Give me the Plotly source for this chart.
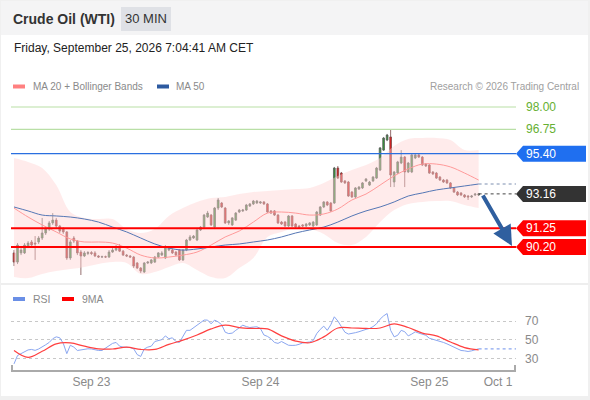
import pandas as pd
import plotly.graph_objects as go

W, H = 590, 400

# 30 min candles, Sep 22 13:00 -> Sep 25 07:00
opens = [
    89.87, 89.36, 89.87, 89.87, 90.25, 90.48, 90.42, 90.48, 90.70, 90.98,
    91.20, 91.54, 91.70, 91.37, 91.20, 91.04, 89.59, 90.70, 90.53, 89.92,
    89.70, 89.84, 89.89, 89.87, 89.70, 89.64, 89.66, 89.64, 89.92, 90.03,
    90.20, 89.97, 89.75, 89.70, 89.64, 89.31, 89.03, 88.81, 89.31, 89.31,
    89.36, 89.64, 89.75, 89.59, 90.03, 90.03, 89.92, 90.03, 89.48, 90.03,
    90.59, 90.70, 90.59, 91.15, 91.31, 91.87, 91.98, 91.31, 92.37, 92.65,
    92.37, 91.54, 91.43, 91.70, 92.15, 92.21, 92.26, 92.48, 92.60, 92.65,
    92.65, 92.71, 92.60, 92.21, 92.21, 91.98, 91.59, 91.59, 91.37, 91.93,
    91.48, 91.37, 91.43, 91.37, 91.43, 91.37, 91.43, 91.98, 92.43, 92.71,
    92.65, 92.65, 94.60, 94.32, 93.88, 93.82, 93.26, 92.99, 93.43, 93.49,
    93.88, 93.65, 93.88, 94.04, 94.49, 95.60, 96.16, 96.33, 93.82, 94.32,
    94.88, 95.21, 94.38, 94.38, 95.16, 95.33, 95.21, 94.82, 94.77, 94.38,
    94.32, 94.10, 93.93, 93.93, 93.77, 93.49, 93.26, 93.21, 93.10, 93.04,
    92.99, 93.10, 93.10,
]
highs = [
    90.03, 90.42, 90.14, 90.42, 90.53, 90.59, 90.81, 90.81, 91.82, 91.31,
    91.65, 92.09, 91.82, 91.43, 91.31, 91.09, 90.59, 90.81, 90.59, 90.03,
    89.97, 89.97, 89.97, 89.97, 89.75, 89.72, 89.72, 90.03, 90.14, 90.31,
    90.37, 90.03, 89.81, 89.75, 89.70, 89.36, 89.08, 89.36, 89.42, 89.53,
    89.70, 89.92, 89.97, 90.31, 90.25, 90.14, 89.97, 90.09, 90.09, 90.65,
    90.87, 90.87, 91.20, 91.37, 92.04, 92.21, 92.04, 92.43, 92.93, 92.71,
    92.43, 91.70, 91.87, 92.15, 92.32, 92.32, 92.60, 92.65, 92.82, 92.82,
    92.76, 92.76, 92.65, 92.26, 92.26, 92.04, 91.65, 91.65, 91.98, 91.98,
    91.54, 91.43, 91.48, 91.54, 91.59, 91.65, 92.21, 92.48, 92.76, 92.76,
    92.71, 94.66, 94.71, 94.38, 93.93, 93.88, 93.32, 93.54, 93.60, 93.82,
    94.04, 93.88, 94.15, 94.66, 95.77, 96.33, 96.50, 96.72, 94.43, 95.00,
    95.60, 95.27, 94.94, 95.38, 95.38, 95.38, 95.27, 94.88, 94.82, 94.43,
    94.38, 94.15, 93.99, 93.99, 93.82, 93.54, 93.32, 93.26, 93.15, 93.10,
    93.10, 93.21, 93.21,
]
lows = [
    89.14, 89.25, 89.75, 89.81, 90.14, 90.20, 89.48, 90.37, 90.59, 90.87,
    91.09, 91.43, 91.26, 90.98, 90.93, 89.48, 89.48, 90.42, 89.75, 88.64,
    89.64, 89.75, 89.75, 89.64, 89.59, 89.59, 89.59, 89.59, 89.87, 89.97,
    89.92, 89.70, 89.64, 89.59, 89.03, 88.97, 88.75, 88.75, 89.25, 89.25,
    89.31, 89.59, 89.70, 89.53, 89.97, 89.81, 89.70, 89.42, 89.42, 89.97,
    90.53, 90.65, 90.53, 91.09, 91.20, 91.82, 91.37, 91.20, 92.26, 92.37,
    91.48, 91.43, 91.37, 91.65, 92.09, 92.15, 92.21, 92.43, 92.54, 92.60,
    92.60, 92.54, 92.09, 92.04, 91.93, 91.48, 91.43, 91.31, 91.31, 91.31,
    91.26, 91.26, 91.31, 91.31, 91.37, 91.31, 91.37, 91.93, 92.37, 92.48,
    92.15, 92.60, 93.99, 93.77, 93.71, 92.99, 92.93, 92.93, 93.38, 93.43,
    93.82, 93.60, 93.82, 93.99, 94.43, 95.55, 96.10, 93.54, 93.54, 94.27,
    94.82, 93.54, 94.32, 94.32, 95.10, 95.16, 94.71, 94.66, 94.27, 94.21,
    93.99, 93.88, 93.77, 93.71, 93.43, 93.21, 93.04, 93.04, 92.93, 92.82,
    92.93, 93.04, 93.04,
]
closes = [
    89.36, 90.31, 90.03, 90.31, 90.42, 90.31, 90.37, 90.70, 90.98, 91.20,
    91.54, 91.70, 91.37, 91.09, 91.04, 89.59, 90.48, 90.53, 89.87, 89.70,
    89.87, 89.89, 89.84, 89.70, 89.64, 89.66, 89.64, 89.92, 90.03, 90.20,
    89.97, 89.75, 89.70, 89.64, 89.14, 89.03, 88.86, 89.31, 89.36, 89.48,
    89.64, 89.87, 89.87, 90.20, 90.14, 89.87, 89.75, 89.48, 90.03, 90.59,
    90.76, 90.81, 91.15, 91.31, 91.98, 92.09, 91.43, 92.37, 92.82, 92.43,
    91.54, 91.65, 91.82, 92.09, 92.26, 92.26, 92.54, 92.60, 92.76, 92.76,
    92.71, 92.60, 92.15, 92.09, 91.98, 91.54, 91.48, 91.37, 91.93, 91.37,
    91.31, 91.31, 91.37, 91.48, 91.54, 91.59, 92.15, 92.43, 92.71, 92.54,
    92.21, 94.60, 94.04, 93.82, 93.77, 93.04, 92.99, 93.49, 93.54, 93.77,
    93.99, 93.82, 94.10, 94.60, 95.72, 96.27, 96.44, 94.21, 94.38, 94.94,
    95.21, 94.38, 94.88, 95.33, 95.33, 95.21, 94.77, 94.71, 94.32, 94.27,
    94.04, 93.93, 93.82, 93.77, 93.49, 93.26, 93.10, 93.10, 92.99, 92.99,
    93.04, 93.15, 93.16,
]

# indicators read every 4th candle
ma20 = [92.37, 91.87, 91.43, 91.04, 90.65, 90.48, 90.48, 90.42, 90.14, 89.75,
        89.59, 89.64, 89.75, 89.92, 90.31, 90.76, 91.09, 91.59, 92.09, 92.15,
        92.09, 91.98, 92.04, 92.32, 92.82, 93.15, 93.65, 94.16, 94.55, 94.82,
        94.82, 94.66, 94.32, 93.93]
ma50 = [92.43, 92.21, 91.98, 91.93, 91.87, 91.76, 91.59, 91.31, 91.04, 90.70,
        90.37, 90.14, 90.03, 90.09, 90.20, 90.31, 90.37, 90.48, 90.59, 90.76,
        90.98, 91.15, 91.31, 91.59, 91.93, 92.21, 92.43, 92.71, 93.04, 93.21,
        93.38, 93.49, 93.60, 93.71]
bb_upper = [95.16, 94.94, 94.60, 93.65, 92.15, 91.82, 91.76, 91.76, 91.20, 90.98,
            91.20, 91.93, 92.37, 92.71, 92.93, 92.99, 93.15, 93.26, 93.32, 93.38,
            93.43, 93.49, 93.77, 94.16, 94.49, 94.77, 95.16, 95.83, 96.22, 96.27,
            96.27, 96.16, 95.60, 95.60]
bb_lower = [88.53, 88.47, 88.70, 88.86, 88.97, 89.09, 89.25, 89.36, 89.31, 88.70,
            88.81, 89.09, 89.31, 88.92, 88.53, 88.47, 89.03, 89.59, 90.76, 91.04,
            91.26, 91.20, 90.93, 90.42, 90.31, 90.76, 91.59, 92.26, 92.60, 92.71,
            92.76, 92.76, 92.54, 92.37]

rsi = [
    24, 33, 35, 37, 39, 39.5, 38.5, 40, 42, 44.5,
    47, 51, 53, 52, 46, 35, 44, 42, 38.4, 39,
    40, 40.2, 40, 39, 38.4, 38.4, 41, 43.5, 46, 47,
    43, 42, 42, 41.5, 40.2, 34, 32, 40, 42, 43,
    48, 49, 50, 54, 51, 52, 48, 47, 54, 60,
    60, 63, 65, 68, 71, 71, 67, 71, 69, 66,
    58, 56.5, 57, 60, 63, 65.5, 64, 63, 63.5, 63.8,
    62, 55, 53.5, 51, 47, 46, 48, 46, 44, 43.8,
    44, 45, 46.5, 47, 47.5, 49, 56.5, 61, 64.5, 60,
    66, 74.5, 70, 64, 58, 56, 56.5, 57.5, 58.5, 60,
    61, 62, 64, 67, 72, 75.5, 78, 60, 53, 54.7,
    60, 58.5, 54, 56, 58.4, 57, 56, 54.7, 51.5, 50.5,
    49.5, 48.5, 47, 45.5, 43.5, 41.5, 39.5, 38.4, 38, 37.3,
    38, 39, 40.2,
]
rsi_ma9 = [38.4, 31, 37.5, 45.5, 46.5, 43, 40.2, 40, 42, 39.5,
           39.5, 45, 49.5, 55, 61.5, 65.5, 63, 62, 61.5, 54,
           48.5, 46.7, 53, 62.5, 62.5, 62, 62.5, 67, 63, 57,
           54, 47.5, 41.5, 39]

resistances = [98.00, 96.75]
pivot = 95.40
supports = [91.25, 90.20]
tick_labels = ["Sep 23", "Sep 24", "Sep 25", "Oct 1"]

times = pd.date_range("2026-09-22 13:00", periods=len(closes), freq="30min")
ind_times = times[::4]
step = pd.Timedelta(minutes=30)

# pixel layout
X_LEFT, X_RIGHT, CANDLE0, CANDLE_W = 11, 516, 14, 3.52
P_TOP, P_BOT, P_REF_Y, P_REF, P_SCALE = 95, 282, 107, 98.0, 17.95
R_TOP, R_BOT, R_REF_Y, R_SCALE = 305, 370, 321, 0.9325


def px(x):
    return x / W


def py(y):
    return 1 - y / H


def t_at(pix):
    return times[0] + step * ((pix - CANDLE0) / CANDLE_W)


x_range = [t_at(X_LEFT), t_at(X_RIGHT)]
price_range = [P_REF - (P_BOT - P_REF_Y) / P_SCALE, P_REF + (P_REF_Y - P_TOP) / P_SCALE]
rsi_range = [70 - (R_BOT - R_REF_Y) / R_SCALE, 70 + (R_REF_Y - R_TOP) / R_SCALE]
tick_vals = [pd.Timestamp("2026-09-23"), pd.Timestamp("2026-09-24"),
             pd.Timestamp("2026-09-25"), t_at(498)]

FONT = "Liberation Sans, Arial, sans-serif"
GREY_TXT = "#8a8a8a"

fig = go.Figure()

# bollinger band
fig.add_trace(go.Scatter(x=ind_times, y=bb_upper, mode="lines", line=dict(width=0, shape="spline"),
                         hoverinfo="skip", xaxis="x", yaxis="y"))
fig.add_trace(go.Scatter(x=ind_times, y=bb_lower, mode="lines", line=dict(width=0, shape="spline"),
                         fill="tonexty", fillcolor="rgba(255,210,210,0.45)", hoverinfo="skip",
                         xaxis="x", yaxis="y"))
fig.add_trace(go.Scatter(x=ind_times, y=ma20, mode="lines",
                         line=dict(color="#ff9a9a", width=1, shape="spline"), xaxis="x", yaxis="y"))
fig.add_trace(go.Scatter(x=ind_times, y=ma50, mode="lines",
                         line=dict(color="#5577b5", width=1, shape="spline"), xaxis="x", yaxis="y"))
fig.add_trace(go.Scatter(x=[times[-1], x_range[1]], y=[ma50[-1], ma50[-1]], mode="lines",
                         line=dict(color="#7d8fb0", width=1, dash="dot"), xaxis="x", yaxis="y"))
fig.add_trace(go.Scatter(x=[times[-1], x_range[1]], y=[closes[-1], closes[-1]], mode="lines",
                         line=dict(color="#444444", width=1, dash="dot"), xaxis="x", yaxis="y"))

fig.add_trace(go.Candlestick(
    x=times, open=opens, high=highs, low=lows, close=closes,
    increasing=dict(line=dict(color="#5a5a5a", width=0.8), fillcolor="#2f9a35"),
    decreasing=dict(line=dict(color="#7a4a4a", width=0.8), fillcolor="#e31b1b"),
    whiskerwidth=0, xaxis="x", yaxis="y",
))

# RSI panel
fig.add_trace(go.Scatter(x=times, y=rsi, mode="lines", line=dict(color="#8aa6f0", width=1),
                         xaxis="x2", yaxis="y2"))
fig.add_trace(go.Scatter(x=[times[-1], x_range[1]], y=[rsi[-1], rsi[-1]], mode="lines",
                         line=dict(color="#8aa6f0", width=1.2, dash="dot"), xaxis="x2", yaxis="y2"))
fig.add_trace(go.Scatter(x=ind_times, y=rsi_ma9, mode="lines",
                         line=dict(color="#ff4040", width=1.2, shape="spline"), xaxis="x2", yaxis="y2"))

shapes = [
    # page background / frame
    dict(type="rect", xref="paper", yref="paper", x0=px(1), x1=px(588), y0=py(396), y1=py(1),
         fillcolor="white", line=dict(width=0), layer="below"),
    dict(type="rect", xref="paper", yref="paper", x0=px(1), x1=px(588), y0=py(35), y1=py(1),
         fillcolor="#f4f4f5", line=dict(width=0)),
    dict(type="rect", xref="paper", yref="paper", x0=px(121), x1=px(171), y0=py(31), y1=py(7),
         fillcolor="#dfe1e6", line=dict(width=0)),
    dict(type="line", xref="paper", yref="paper", x0=px(1), x1=px(588), y0=py(284), y1=py(284),
         line=dict(color="#eeeeee", width=2)),
    # legend swatches
    dict(type="rect", xref="paper", yref="paper", x0=px(13), x1=px(25), y0=py(88.5), y1=py(84.5),
         fillcolor="#ff8080", line=dict(width=0)),
    dict(type="rect", xref="paper", yref="paper", x0=px(157), x1=px(169), y0=py(88.5), y1=py(84.5),
         fillcolor="#2d5aa0", line=dict(width=0)),
    dict(type="rect", xref="paper", yref="paper", x0=px(13), x1=px(25), y0=py(301), y1=py(297),
         fillcolor="#6a8fe6", line=dict(width=0)),
    dict(type="rect", xref="paper", yref="paper", x0=px(62), x1=px(74), y0=py(301), y1=py(297),
         fillcolor="#ff0000", line=dict(width=0)),
    # axis end ticks
    dict(type="line", xref="paper", yref="paper", x0=px(X_LEFT + 1), x1=px(X_LEFT + 1), y0=py(370), y1=py(365),
         line=dict(color="#aaaaaa", width=2)),
    dict(type="line", xref="paper", yref="paper", x0=px(X_RIGHT - 1), x1=px(X_RIGHT - 1), y0=py(370), y1=py(365),
         line=dict(color="#aaaaaa", width=2)),
]

annotations = []
for lv in resistances:
    shapes.append(dict(type="line", xref="paper", yref="y", x0=px(X_LEFT), x1=px(X_RIGHT), y0=lv, y1=lv,
                       line=dict(color="#b9dfa6", width=1.2)))
    annotations.append(dict(xref="paper", yref="y", x=px(524), y=lv, text=f"{lv:.2f}", showarrow=False,
                            xanchor="left", yanchor="middle",
                            font=dict(color="#66b032", size=12, family=FONT)))

hh = 8 / P_SCALE


def tag(level, color):
    path = (f"M {px(516)},{level} L {px(523)},{level + hh} L {px(586)},{level + hh} "
            f"L {px(586)},{level - hh} L {px(523)},{level - hh} Z")
    shapes.append(dict(type="path", xref="paper", yref="y", path=path, fillcolor=color, line=dict(width=0)))
    annotations.append(dict(xref="paper", yref="y", x=px(524), y=level, text=f"{level:.2f}", showarrow=False,
                            xanchor="left", yanchor="middle",
                            font=dict(color="white", size=12, family=FONT)))


shapes.append(dict(type="line", xref="paper", yref="y", x0=px(X_LEFT), x1=px(X_RIGHT), y0=pivot, y1=pivot,
                   line=dict(color="#2a6fe0", width=1.3)))
tag(pivot, "#1f6ff0")
tag(closes[-1], "#333333")
for lv in supports:
    shapes.append(dict(type="line", xref="paper", yref="y", x0=px(X_LEFT), x1=px(X_RIGHT), y0=lv, y1=lv,
                       line=dict(color="#ff0000", width=2)))
    tag(lv, "#ff0000")

# forecast arrow
annotations.append(dict(x=t_at(512), y=90.26, ax=t_at(482), ay=closes[-1], xref="x", yref="y",
                        axref="x", ayref="y", text="", showarrow=True, arrowhead=2, arrowsize=1,
                        arrowwidth=4, arrowcolor="#2f5f9f", standoff=0))


def label(x, y, text, size, color, anchor="left"):
    annotations.append(dict(xref="paper", yref="paper", x=px(x), y=py(y), text=text, showarrow=False,
                            xanchor=anchor, yanchor="middle",
                            font=dict(size=size, color=color, family=FONT)))


label(11, 19, "<b>Crude Oil (WTI)</b>", 14, "#333333")
label(146, 19, "30 MIN", 13, "#333333", "center")
label(12, 48, "Friday, September 25, 2026 7:04:41 AM CET", 12, "#222222")
label(31, 86.5, "MA 20 + Bollinger Bands", 10, GREY_TXT)
label(174, 86.5, "MA 50", 10, GREY_TXT)
label(581, 86.5, "Research © 2026 Trading Central", 10, "#a0a0a0", "right")
label(31, 299, "RSI", 10.5, GREY_TXT)
label(80, 299, "9MA", 10.5, GREY_TXT)

fig.update_layout(
    width=W, height=H, margin=dict(l=0, r=0, t=0, b=0),
    paper_bgcolor="#f0f0f0", plot_bgcolor="rgba(0,0,0,0)",
    showlegend=False, hovermode=False,
    font=dict(family=FONT),
    shapes=shapes, annotations=annotations,
    xaxis=dict(domain=[px(X_LEFT), px(X_RIGHT)], range=x_range, anchor="y", showticklabels=False,
               showgrid=False, zeroline=False, rangeslider=dict(visible=False), fixedrange=True),
    yaxis=dict(domain=[py(P_BOT), py(P_TOP)], range=price_range, showticklabels=False,
               showgrid=False, zeroline=False, fixedrange=True),
    xaxis2=dict(domain=[px(X_LEFT), px(X_RIGHT)], range=x_range, anchor="y2", matches="x",
                tickvals=tick_vals, ticktext=tick_labels, ticks="", showgrid=False, zeroline=False,
                showline=True, linecolor="#aaaaaa", linewidth=2,
                tickfont=dict(size=12, color=GREY_TXT, family=FONT)),
    yaxis2=dict(domain=[py(R_BOT), py(R_TOP)], range=rsi_range, side="right", anchor="x2",
                tickvals=[30, 50, 70], ticks="", ticklabelstandoff=8, showgrid=True,
                gridcolor="#c8c8c8", griddash="dot", gridwidth=1, zeroline=False,
                tickfont=dict(size=12, color=GREY_TXT, family=FONT)),
)

fig.write_html("out.html", config={"displayModeBar": False},
               post_script="document.body.style.margin='0';")
